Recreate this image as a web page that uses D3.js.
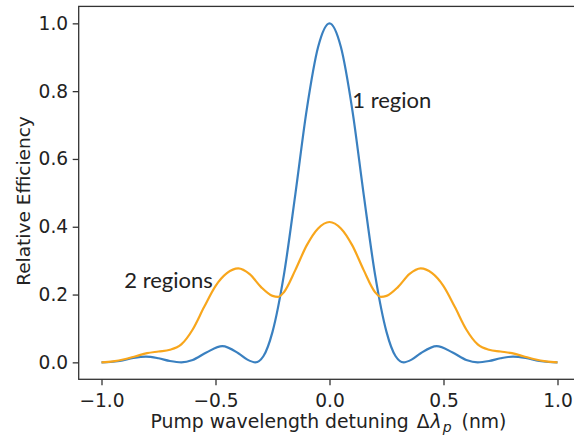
<!DOCTYPE html>
<html>
<head>
<meta charset="utf-8">
<script src="https://cdn.jsdelivr.net/npm/d3@7"></script>
<style>
  body { margin: 0; background: #fff; }
  text { font-family: "DejaVu Sans", sans-serif; fill: #222; }
</style>
</head>
<body>
<div id="root"></div>
<script>
// data
var oneX = [-1.0, -0.96, -0.92, -0.86, -0.805, -0.75, -0.70, -0.65, -0.60, -0.54, -0.47, -0.40, -0.36, -0.325, -0.29, -0.25, -0.20, -0.15, -0.10, -0.05,
            0.0, 0.05, 0.10, 0.15, 0.20, 0.25, 0.29, 0.325, 0.36, 0.40, 0.47, 0.54, 0.60, 0.65, 0.70, 0.75, 0.805, 0.86, 0.92, 0.96, 1.0];
var oneY = [0.0, 0.001, 0.004, 0.013, 0.017, 0.012, 0.004, 0.0, 0.007, 0.029, 0.048, 0.027, 0.008, 0.0, 0.018, 0.09, 0.258, 0.495, 0.745, 0.93,
            1.0, 0.93, 0.745, 0.495, 0.258, 0.09, 0.018, 0.0, 0.008, 0.027, 0.048, 0.029, 0.007, 0.0, 0.004, 0.012, 0.017, 0.013, 0.004, 0.001, 0.0];

var twoX = [-1.0, -0.95, -0.90, -0.85, -0.80, -0.75, -0.70, -0.65, -0.60, -0.55, -0.50, -0.45, -0.40, -0.35, -0.30, -0.25, -0.225, -0.20, -0.15, -0.10, -0.05,
            0.0, 0.05, 0.10, 0.15, 0.20, 0.225, 0.25, 0.30, 0.35, 0.40, 0.45, 0.50, 0.55, 0.60, 0.65, 0.70, 0.75, 0.80, 0.85, 0.90, 0.95, 1.0];
var twoY = [0.0, 0.003, 0.009, 0.018, 0.027, 0.032, 0.037, 0.053, 0.097, 0.163, 0.225, 0.263, 0.277, 0.260, 0.222, 0.196, 0.193, 0.207, 0.272, 0.345, 0.395,
            0.414, 0.395, 0.345, 0.272, 0.207, 0.193, 0.196, 0.222, 0.260, 0.277, 0.263, 0.225, 0.163, 0.097, 0.053, 0.037, 0.032, 0.027, 0.018, 0.009, 0.003, 0.0];

var xTicks = [-1.0, -0.5, 0.0, 0.5, 1.0];
var yTicks = [0.0, 0.2, 0.4, 0.6, 0.8, 1.0];

var labels = [{text: "1 region", x: 0.1, y: 0.75}, {text: "2 regions", x: -0.9, y: 0.22}];

var width = 574, height = 438;

var svg = d3.select("#root")
  .append("svg")
  .attr("width", width)
  .attr("height", height);

// scales (matplotlib style 5% margins)
var x = d3.scaleLinear().domain([-1.1, 1.1]).range([78.7, 580.3]);
var y = d3.scaleLinear().domain([-0.05, 1.05]).range([379.3, 6.4]);

var fmt = d3.format(".1f");

// x axis
var gx = svg.append("g")
  .attr("transform", "translate(0," + y(-0.05) + ")")
  .call(d3.axisBottom(x).tickValues(xTicks).tickFormat(fmt).tickSize(6).tickSizeOuter(0).tickPadding(8));

// y axis
var gy = svg.append("g")
  .attr("transform", "translate(" + x(-1.1) + ",0)")
  .call(d3.axisLeft(y).tickValues(yTicks).tickFormat(fmt).tickSize(6).tickSizeOuter(0).tickPadding(4.5));

[gx, gy].forEach(function (g) {
  g.selectAll("text").style("font-size", "18.6px").style("font-family", "DejaVu Sans").attr("fill", "#222");
  g.selectAll("line").attr("stroke", "#333").attr("stroke-width", 1.3);
  g.select(".domain").remove();
});

// frame
svg.append("rect")
  .attr("x", x(-1.1)).attr("y", y(1.05))
  .attr("width", x(1.1) - x(-1.1)).attr("height", y(-0.05) - y(1.05))
  .attr("fill", "none").attr("stroke", "#333").attr("stroke-width", 1.3);

// lines
var line = d3.line()
  .x(function (d) { return x(d[0]); })
  .y(function (d) { return y(d[1]); })
  .curve(d3.curveMonotoneX);

svg.append("path")
  .datum(d3.zip(oneX, oneY))
  .attr("d", line)
  .attr("fill", "none")
  .attr("stroke", "#3a80c0")
  .attr("stroke-width", 2.2);

svg.append("path")
  .datum(d3.zip(twoX, twoY))
  .attr("d", line)
  .attr("fill", "none")
  .attr("stroke", "#f8a61c")
  .attr("stroke-width", 2.2);

// annotations
svg.selectAll(".note")
  .data(labels)
  .enter()
  .append("text")
  .attr("x", function (d) { return x(d.x); })
  .attr("y", function (d) { return y(d.y); })
  .style("font-family", "Lato")
  .style("font-size", "22px")
  .attr("fill", "#111")
  .text(function (d) { return d.text; });

// axis titles
var xt = svg.append("text")
  .attr("x", (x(-1.1) + x(1.1)) / 2 - 1)
  .attr("y", 428)
  .attr("text-anchor", "middle")
  .style("font-size", "18.8px");
xt.append("tspan").text("Pump wavelength detuning ");
xt.append("tspan").attr("dx", 2).text("\u0394");
xt.append("tspan").style("font-style", "italic").attr("dx", 1).text("\u03bb");
xt.append("tspan").style("font-style", "italic").style("font-size", "14px").attr("dx", 1).attr("dy", 4).text("p");
xt.append("tspan").attr("dy", -4).attr("dx", 4).text(" (nm)");

svg.append("text")
  .attr("transform", "translate(30,201) rotate(-90)")
  .attr("text-anchor", "middle")
  .style("font-size", "18.5px")
  .text("Relative Efficiency");
</script>
</body>
</html>
